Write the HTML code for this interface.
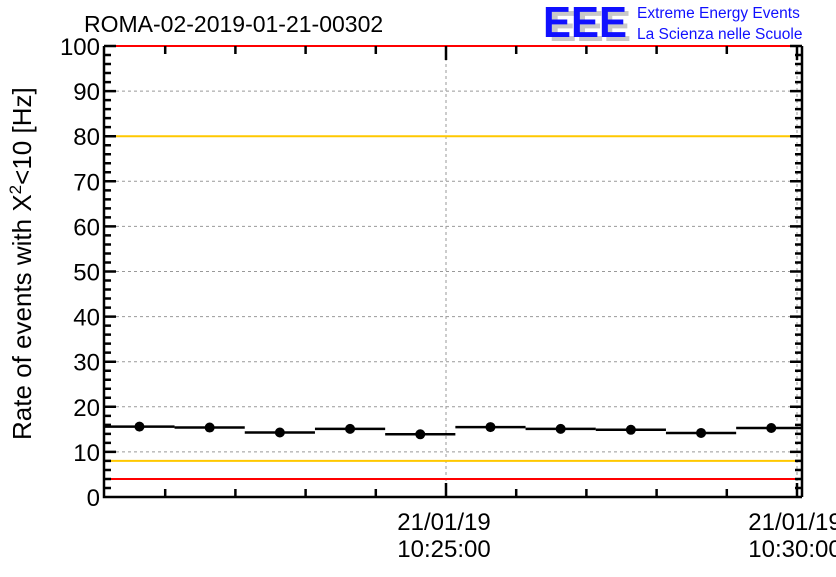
<!DOCTYPE html>
<html><head><meta charset="utf-8"><style>
body{margin:0;background:#fff;}
svg text{font-family:"Liberation Sans",sans-serif;}
</style></head><body>
<svg id="chart" width="836" height="572" xmlns="http://www.w3.org/2000/svg">
<rect width="836" height="572" fill="#fff"/>
<text x="84" y="32" font-size="23">ROMA-02-2019-01-21-00302</text>
<g>
<text x="549" y="41" font-size="44" font-weight="bold" fill="#c8c8c8" textLength="82" lengthAdjust="spacingAndGlyphs">EEE</text>
<text x="543" y="37" font-size="44" font-weight="bold" fill="#1010ff" textLength="84" lengthAdjust="spacingAndGlyphs">EEE</text>
<text x="637" y="18" font-size="15.5" fill="#1010ff">Extreme Energy Events</text>
<text x="637" y="39" font-size="15.5" fill="#1010ff">La Scienza nelle Scuole</text>
</g>
<defs><clipPath id="plotclip"><rect x="104" y="40" width="698" height="460"/></clipPath></defs>
<g id="grid"></g>
<g id="refs"></g>
<g id="axes"></g>
<g id="series" clip-path="url(#plotclip)"></g>
<text transform="translate(31,440) rotate(-90)" font-size="26">Rate of events with X<tspan dy="-10" font-size="17">2</tspan><tspan dy="10">&lt;10 [Hz]</tspan></text>
</svg>
<script>
const times=[-262,-202,-142,-82,-22,38,98,158,218,278]; // seconds relative to 10:25:00
const rates=[15.6,15.4,14.3,15.1,13.9,15.5,15.1,14.9,14.2,15.3];
const binHalf=30;
const yTicks=[0,10,20,30,40,50,60,70,80,90,100];
const xTickTimes=[0,300];
const xTickLabels=[["21/01/19","10:25:00"],["21/01/19","10:30:00"]];
const redLevels=[100,4];
const orangeLevels=[80,8];

const NS="http://www.w3.org/2000/svg";
const L=104,R=802,T=46,B=497;
const x=t=>446+t*351/300;
const y=v=>B-(B-T)*v/100;
function mk(tag,attrs,parent){const e=document.createElementNS(NS,tag);for(const k in attrs)e.setAttribute(k,attrs[k]);parent.appendChild(e);return e;}
const grid=document.getElementById('grid'),refs=document.getElementById('refs'),axes=document.getElementById('axes'),series=document.getElementById('series');

yTicks.forEach(v=>{
 if(v>0&&v<100){const g=mk('line',{x1:L,x2:R,y1:y(v),y2:y(v),stroke:'#999','stroke-dasharray':'3,3','stroke-width':1},grid);
 
 }
 const t=mk('text',{x:L-4,y:y(v)+9,'font-size':24,'text-anchor':'end'},axes);
 t.textContent=v;
 
 
});
xTickTimes.forEach((tt,i)=>{
 if(x(tt)<R-2){const g=mk('line',{x1:x(tt),x2:x(tt),y1:T,y2:B,stroke:'#999','stroke-dasharray':'3,3','stroke-width':1},grid);
 
 }
 const t1=mk('text',{x:x(tt)-2,y:530,'font-size':24,'text-anchor':'middle'},axes);
 t1.textContent=xTickLabels[i][0];
 
 
 const t2=mk('text',{x:x(tt)-2,y:557,'font-size':24,'text-anchor':'middle'},axes);
 t2.textContent=xTickLabels[i][1];
 
 
});
redLevels.forEach(v=>{const l=mk('line',{x1:L,x2:R,y1:y(v),y2:y(v),stroke:'#f00','stroke-width':2},refs);
 
 });
orangeLevels.forEach(v=>{const l=mk('line',{x1:L,x2:R,y1:y(v),y2:y(v),stroke:'#ffc800','stroke-width':2},refs);
 
 });
let p='M'+L+' '+T+' V'+B+' H'+R+' M'+R+' '+B+' V'+T;
for(let v=0;v<=100;v+=2){const len=(v%10===0)?12:7;p+=' M'+L+' '+y(v)+' h'+len+' M'+R+' '+y(v)+' h-'+len;}
for(let t=-240;t<=300;t+=60){const len=(t%300===0)?14:8;p+=' M'+x(t)+' '+B+' v-'+len+' M'+x(t)+' '+T+' v'+len;}
const fr=mk('path',{d:p,stroke:'#000','stroke-width':2.5,fill:'none'},axes);


times.forEach((t,i)=>{
 const e=mk('line',{x1:x(t-binHalf),x2:x(t+binHalf),y1:y(rates[i]),y2:y(rates[i]),stroke:'#000','stroke-width':2.5},series);
 
 
 const c=mk('circle',{cx:x(t),cy:y(rates[i]),r:5,fill:'#000'},series);
 
 
});
</script>
</body></html>
